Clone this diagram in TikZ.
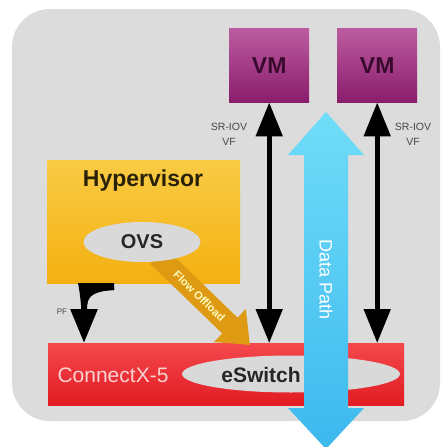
\documentclass[tikz,border=0pt]{standalone}
\usepackage{fontspec}
\setmainfont{Liberation Sans}
\usetikzlibrary{arrows.meta,shapes.geometric,calc}
\definecolor{bgcol}{HTML}{DCDCDC}
\definecolor{vmtop}{HTML}{BC5CA0}
\definecolor{vmbot}{HTML}{8A1D6C}
\definecolor{vmtext}{HTML}{3A0A2E}
\definecolor{hyptop}{HTML}{F9CB45}
\definecolor{hypbot}{HTML}{F4B010}
\definecolor{redtop}{HTML}{F4484D}
\definecolor{redbot}{HTML}{E11C22}
\definecolor{ellcol}{HTML}{D9D9D9}
\definecolor{dptop}{HTML}{70DDF8}
\definecolor{dpbot}{HTML}{3DB8EE}
\definecolor{flowcol}{HTML}{DE9A12}
\definecolor{cxtext}{HTML}{FAD2D2}
\definecolor{smalltext}{HTML}{484848}
\definecolor{hyptext}{HTML}{2A2208}
\tikzset{
  vmbox/.style={rectangle, anchor=north west, minimum width=80pt, minimum height=74pt,
    inner sep=0pt, top color=vmtop, bottom color=vmbot, text=vmtext,
    font=\bfseries\fontsize{23}{23}\selectfont},
  ellbox/.style={ellipse, fill=ellcol, inner sep=0pt},
  bigarrow/.style={line width=5pt, black,
    {Triangle[length=34pt,width=26pt]}-{Triangle[length=34pt,width=26pt]}},
  smalllabel/.style={text=smalltext, font=\fontsize{10.5}{15}\selectfont, align=center, inner sep=0pt}
}
\begin{document}
\begin{tikzpicture}[x=1pt,y=-1pt]
\useasboundingbox (0,0) rectangle (442,447);
\fill[white] (0,0) rectangle (442,447);
\fill[bgcol, rounded corners=38pt] (12,9) rectangle (440,421);

% VMs
\node[vmbox] (vm1) at (229,28) {VM};
\node[vmbox] (vm2) at (337,28) {VM};

% Hypervisor
\node[rectangle, anchor=north west, minimum width=193pt, minimum height=123pt, inner sep=0pt,
      top color=hyptop, bottom color=hypbot] (hyp) at (47,160) {};
\node[text=hyptext, font=\bfseries\fontsize{23}{23}\selectfont] (hyptxt) at (143,181) {Hypervisor};

% ConnectX-5 bar
\node[rectangle, anchor=north west, minimum width=356pt, minimum height=62pt, inner sep=0pt,
      top color=redtop, bottom color=redbot] (cx) at (48,343) {};
\node[text=cxtext, font=\fontsize{21}{21}\selectfont] (cxtxt) at (113,375) {ConnectX-5};

% Flow offload arrow
\coordinate (fstart) at (158,256);
\coordinate (fend) at (250,345);
\draw[flowcol, line width=22pt, line cap=butt, -{Triangle[length=28pt,width=44pt]}] (fstart) -- (fend)
  node[pos=0.45, sloped, inner sep=0pt, text=yellow!25, font=\bfseries\fontsize{11}{11}\selectfont] (flowtxt) {Flow Offload};

% OVS
\node[ellbox, minimum width=117pt, minimum height=40pt, font=\bfseries\fontsize{20}{20}\selectfont, text=black!85] (ovs) at (142,242) {OVS};

% eSwitch
\node[ellbox, minimum width=218pt, minimum height=37pt] (esw) at (291,374) {};
\node[font=\bfseries\fontsize{21}{21}\selectfont, text=black!85] (eswtxt) at (261,375) {eSwitch};

% SR-IOV arrows
\draw[bigarrow] (vm1.south) -- (vm1.south |- cx.north);
\draw[bigarrow] (vm2.south) -- (vm2.south |- cx.north);
\node[smalllabel] (sr1) at (229,134) {SR-IOV\\VF};
\node[smalllabel] (sr2) at (413,134) {SR-IOV\\VF};

% PF arrow (swoosh from hypervisor bottom)
\coordinate (pfstart) at (114,287);
\coordinate (pfend) at (84,343);
\fill[black] (78,283) -- (114,283) -- (114,290) .. controls (96,291) and (88,295) .. (87,305) -- (81,305) .. controls (80,294) and (79,288) .. (78,283) -- cycle;
\draw[line width=6pt, -{Triangle[length=34pt,width=26pt]}]
  (pfstart) .. controls (90,288) and (84,292) .. (pfend);
\node[smalllabel, font=\fontsize{8}{8}\selectfont] (pf) at (62,312) {PF};

% Data Path arrow
\coordinate (dpa) at (326,112);
\coordinate (dpb) at (326,449);
\shade[top color=dptop, bottom color=dpbot]
  (dpa) -- ($(dpa)+(38,43)$) -- ($(dpa)+(22,43)$) -- ($(dpb)+(22,-41)$) -- ($(dpb)+(38,-41)$)
  -- (dpb) -- ($(dpb)+(-38,-41)$) -- ($(dpb)+(-22,-41)$) -- ($(dpa)+(-22,43)$) -- ($(dpa)+(-38,43)$) -- cycle;
\node[rotate=-90, text=white, font=\fontsize{18}{18}\selectfont] (dptxt) at (326,280) {Data Path};
\end{tikzpicture}
\end{document}
